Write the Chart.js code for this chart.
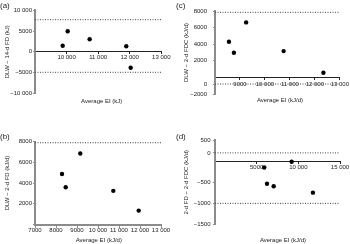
<!DOCTYPE html>
<html><head><meta charset="utf-8">
<script src="https://cdn.jsdelivr.net/npm/chart.js@4"></script>
<style>
html,body{margin:0;padding:0;background:#fff;}
#wrap{position:relative;width:350px;height:244px;overflow:hidden;background:#fff;}
canvas{position:absolute;}
.lbl{position:absolute;font-family:'Liberation Sans',Arial,sans-serif;color:#222;white-space:nowrap;}
.pl{font-size:8px;line-height:9px;}
.xt{font-size:6px;line-height:7px;transform:translateX(-50%);}
</style></head>
<body><div id="wrap">
<canvas id="ca" width="175" height="122" style="left:0;top:0"></canvas>
<canvas id="cb" width="175" height="122" style="left:0;top:122px"></canvas>
<canvas id="cc" width="175" height="122" style="left:175px;top:0"></canvas>
<canvas id="cd" width="175" height="122" style="left:175px;top:122px"></canvas>
<div class="lbl pl" style="left:0;top:1px">(a)</div>
<div class="lbl pl" style="left:0;top:132px">(b)</div>
<div class="lbl pl" style="left:176px;top:1px">(c)</div>
<div class="lbl pl" style="left:176px;top:132px">(d)</div>
<div class="lbl xt" style="left:101.7px;top:97.5px">Average EI (kJ)</div>
<div class="lbl xt" style="left:98.8px;top:236.8px">Average EI (kJ/d)</div>
<div class="lbl xt" style="left:280px;top:96.5px">Average EI (kJ/d)</div>
<div class="lbl xt" style="left:283px;top:236.8px">Average EI (kJ/d)</div>
</div>
<script>
// ---- data ----
const xA = [9877, 10035, 10731, 11890, 12030];
const yA = [1470, 4940, 3010, 1330, -3830];
const limitsA = [7740, -4940];

const xB = [8286, 8462, 9157, 10729, 11938];
const yB = [4874, 3592, 6845, 3243, 1340];
const limitsB = [7880];

const xC = [8558, 8757, 9247, 10749, 12343];
const yC = [4290, 2964, 6627, 3169, 554];
const limitsC = [7840, -800];

const xD = [5910, 9200, 6240, 7040, 11750];
const yD = [-150, -16, -534, -595, -746];
const limitsD = [195, -1000];

// ---- tick values / labels ----
const xTicksA = [9000, 10000, 11000, 12000, 13000];
const xLabelsA = ['', '10 000', '11 000', '12 000', '13 000'];
const yTicksA = [-10000, -5000, 0, 5000, 10000];
const yLabelsA = ['\u221210 000', '\u22125000', '0', '5000', '10 000'];

const xTicksB = [7000, 8000, 9000, 10000, 11000, 12000, 13000];
const xLabelsB = ['7000', '8000', '9000', '10 000', '11 000', '12 000', '13 000'];
const yTicksB = [0, 2000, 4000, 6000, 8000];
const yLabelsB = ['', '2000', '4000', '6000', '8000'];

const xTicksC = [8000, 9000, 10000, 11000, 12000, 13000];
const xLabelsC = ['', '9000', '10 000', '11 000', '12 000', '13 000'];
const yTicksC = [-2000, -800, 2000, 4000, 6000, 8000];
const yLabelsC = ['\u22122000', '0', '2000', '4000', '6000', '8000'];

const xTicksD = [0, 5000, 10000, 15000];
const xLabelsD = ['', '5000', '10 000', '15 000'];
const yTicksD = [-1500, -1000, -500, 195, 500];
const yLabelsD = ['\u22121500', '\u22121000', '\u2212500', '0', '500'];

const FAM = "'Liberation Sans', Arial, sans-serif";
const TXT = '#222';

function make(id, c) {
  const pts = c.xs.map((x, i) => ({x: x, y: c.ys[i]}));
  const datasets = [{
    data: pts, pointRadius: 2.2, pointBackgroundColor: '#000', pointBorderWidth: 0, showLine: false
  }];
  c.limits.forEach(L => datasets.push({
    data: [{x: c.xMin, y: L}, {x: c.xMax, y: L}],
    showLine: true, pointRadius: 0, borderColor: '#444', borderWidth: 1, borderDash: [1, 1.5]
  }));
  new Chart(document.getElementById(id), {
    type: 'scatter',
    data: {datasets},
    options: {
      responsive: false, animation: false, devicePixelRatio: 1,
      layout: {padding: c.pad},
      plugins: {legend: {display: false}, tooltip: {enabled: false}},
      scales: {
        x: {
          type: 'linear', min: c.xMin, max: c.xMax, position: {y: 0},
          afterBuildTicks: s => { s.ticks = c.xTicks.map(v => ({value: v})); },
          afterFit: s => { s.height = 0; },
          ticks: {callback: (v, i) => c.xLabels[i], font: {size: 6, family: FAM}, color: TXT,
                  padding: c.xPad, maxRotation: 0, autoSkip: false},
          grid: {drawOnChartArea: false, drawTicks: true, tickLength: 2, color: c.xColor},
          border: {display: true, color: c.xColor, width: c.xW}
        },
        y: {
          type: 'linear', min: c.yMin, max: c.yMax, position: 'left',
          afterBuildTicks: s => { s.ticks = c.yTicks.map(v => ({value: v})); },
          afterFit: s => { s.width = c.yWidth; },
          ticks: {callback: (v, i) => c.yLabels[i], font: {size: 6, family: FAM}, color: TXT,
                  padding: c.yPad, autoSkip: false},
          grid: {drawOnChartArea: false, drawTicks: true, tickLength: 2, color: '#888'},
          border: {display: true, color: '#8c8c8c', width: 2},
          title: {display: true, text: c.yTitle, font: {size: 6, family: FAM}, color: TXT,
                  padding: {top: c.tPad, bottom: 0}}
        }
      }
    }
  });
}

make('ca', {xs: xA, ys: yA, limits: limitsA, xMin: 9000, xMax: 13000, yMin: -10000, yMax: 10000,
  xTicks: xTicksA, xLabels: xLabelsA, yTicks: yTicksA, yLabels: yLabelsA,
  yTitle: 'DLW \u2212 14-d FD (kJ)', yWidth: 35, yPad: 1, tPad: 3.7, xPad: 0,
  xColor: '#222', xW: 1, pad: {left: 0, right: 13.7, top: 10.3, bottom: 28.7}});

make('cb', {xs: xB, ys: yB, limits: limitsB, xMin: 7000, xMax: 13000, yMin: 0, yMax: 8000,
  xTicks: xTicksB, xLabels: xLabelsB, yTicks: yTicksB, yLabels: yLabelsB,
  yTitle: 'DLW \u2212 2-d FD (kJ/d)', yWidth: 35, yPad: 1, tPad: 3.7, xPad: 0,
  xColor: '#8c8c8c', xW: 2, pad: {left: 0, right: 14, top: 19.5, bottom: 19.5}});

make('cc', {xs: xC, ys: yC, limits: limitsC, xMin: 8000, xMax: 13000, yMin: -2000, yMax: 8000,
  xTicks: xTicksC, xLabels: xLabelsC, yTicks: yTicksC, yLabels: yLabelsC,
  yTitle: 'DLW \u2212 2-d FDC (kJ/d)', yWidth: 40, yPad: 6, tPad: 7.7, xPad: 1,
  xColor: '#222', xW: 1, pad: {left: 0, right: 9.3, top: 11, bottom: 28}});

make('cd', {xs: xD, ys: yD, limits: limitsD, xMin: 0, xMax: 15000, yMin: -1500, yMax: 500,
  xTicks: xTicksD, xLabels: xLabelsD, yTicks: yTicksD, yLabels: yLabelsD,
  yTitle: '2-d FD \u2212 2-d FDC (kJ/d)', yWidth: 40, yPad: 2.5, tPad: 7.4, xPad: 0.7,
  xColor: '#222', xW: 1, pad: {left: 0, right: 10, top: 18, bottom: 19.5}});
</script>
</body></html>
